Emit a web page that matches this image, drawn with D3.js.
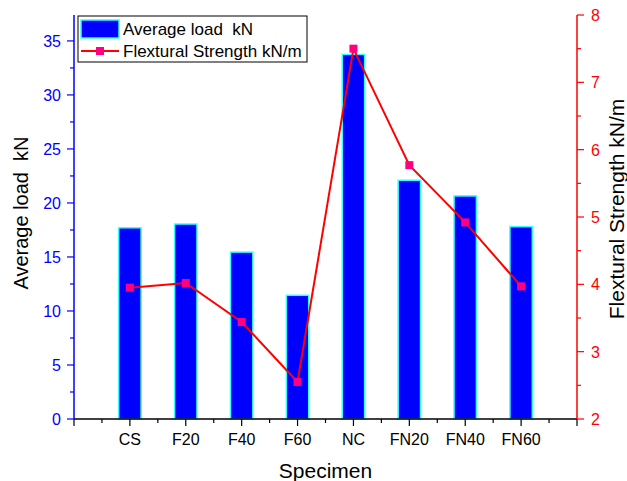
<!DOCTYPE html>
<html><head><meta charset="utf-8">
<script src="https://cdn.jsdelivr.net/npm/d3@7"></script>
<style>body{margin:0;background:#fff}svg{display:block;font-family:"Liberation Sans",Arial,sans-serif}</style>
</head><body><svg id="c" width="627" height="481"></svg>
<script>
const categories = ["CS","F20","F40","F60","NC","FN20","FN40","FN60"];
const avgLoad = [17.7, 18.05, 15.45, 11.45, 33.75, 22.1, 20.65, 17.8];
const flexStrength = [3.95, 4.02, 3.44, 2.55, 7.5, 5.77, 4.92, 3.97];
const leftTicks = [0,5,10,15,20,25,30,35];
const rightTicks = [2,3,4,5,6,7,8];

const svg = d3.select("#c");
const L = 74, R = 577, T = 15, B = 419;
const x = d3.scaleLinear().domain([0, categories.length + 1]).range([L, R]);
const yL = d3.scaleLinear().domain([0, 37.4]).range([B, T]);
const yR = d3.scaleLinear().domain([2, 8]).range([B, T]);
const blue = "#0000ff", red = "#ff0000";

// bars
const bw = x(0.4) - x(0);
svg.append("g").selectAll("rect").data(avgLoad).join("rect")
  .attr("x", (d,i) => x(i+1) - bw/2).attr("y", d => yL(d))
  .attr("width", bw).attr("height", d => B - yL(d))
  .attr("fill", blue).attr("stroke", "#33ffff").attr("stroke-width", 1.5);

// line
const line = d3.line().x((d,i) => x(i+1)).y(d => yR(d));
svg.append("path").datum(flexStrength).attr("d", line)
  .attr("fill","none").attr("stroke", red).attr("stroke-width", 2);
svg.append("g").selectAll("rect").data(flexStrength).join("rect")
  .attr("x", (d,i) => x(i+1) - 4).attr("y", d => yR(d) - 4)
  .attr("width", 8).attr("height", 8).attr("fill", "#ff0080");

// bottom axis
const gx = svg.append("g").attr("transform", `translate(0,${B})`);
const minorX = d3.range(0.5, categories.length + 1, 1);
gx.selectAll("line.mi").data(minorX).join("line").attr("x1", d=>x(d)).attr("x2", d=>x(d))
  .attr("y1",0).attr("y2",4).attr("stroke","#000").attr("stroke-width",1.2);
const majorX = d3.range(0, categories.length + 2);
gx.selectAll("line.ma").data(majorX).join("line").attr("x1", d=>x(d)).attr("x2", d=>x(d))
  .attr("y1",0).attr("y2",7).attr("stroke","#000").attr("stroke-width",1.2);
gx.append("line").attr("x1",L).attr("x2",R).attr("stroke","#000").attr("stroke-width",1.5);
gx.selectAll("text").data(categories).join("text").attr("x",(d,i)=>x(i+1)).attr("y",26)
  .attr("text-anchor","middle").attr("font-size",16).attr("fill","#000").text(d=>d);

// left axis
const gl = svg.append("g").attr("transform", `translate(${L},0)`);
const minorL = d3.range(2.5, 37.4, 5);
gl.selectAll("line.mi").data(minorL).join("line").attr("y1",d=>yL(d)).attr("y2",d=>yL(d))
  .attr("x1",0).attr("x2",-4).attr("stroke",blue).attr("stroke-width",1.2);
gl.selectAll("line.ma").data(leftTicks).join("line").attr("y1",d=>yL(d)).attr("y2",d=>yL(d))
  .attr("x1",0).attr("x2",-7).attr("stroke",blue).attr("stroke-width",1.2);
gl.append("line").attr("y1",T).attr("y2",B).attr("stroke",blue).attr("stroke-width",1.5);
gl.selectAll("text").data(leftTicks).join("text").attr("x",-13).attr("y",d=>yL(d)+6)
  .attr("text-anchor","end").attr("font-size",16).attr("fill",blue).text(d=>d);

// right axis
const gr = svg.append("g").attr("transform", `translate(${R},0)`);
const minorR = d3.range(2.5, 8, 1);
gr.selectAll("line.mi").data(minorR).join("line").attr("y1",d=>yR(d)).attr("y2",d=>yR(d))
  .attr("x1",0).attr("x2",4).attr("stroke",red).attr("stroke-width",1.2);
gr.selectAll("line.ma").data(rightTicks).join("line").attr("y1",d=>yR(d)).attr("y2",d=>yR(d))
  .attr("x1",0).attr("x2",7).attr("stroke",red).attr("stroke-width",1.2);
gr.append("line").attr("y1",T).attr("y2",B).attr("stroke",red).attr("stroke-width",1.5);
gr.selectAll("text").data(rightTicks).join("text").attr("x",14).attr("y",d=>yR(d)+6)
  .attr("text-anchor","start").attr("font-size",16).attr("fill",red).text(d=>d);

// titles
svg.append("text").attr("transform",`translate(28,213) rotate(-90)`).attr("text-anchor","middle")
  .attr("font-size",20).attr("fill","#000").style("white-space","pre").text("Average load  kN");
svg.append("text").attr("transform",`translate(624,209) rotate(-90)`).attr("text-anchor","middle")
  .attr("font-size",21).attr("fill","#000").text("Flextural Strength kN/m");
svg.append("text").attr("x",(L+R)/2).attr("y",478).attr("text-anchor","middle")
  .attr("font-size",21).attr("fill","#000").text("Specimen");

// legend
const lg = svg.append("g");
lg.append("rect").attr("x",78).attr("y",16).attr("width",229).attr("height",46)
  .attr("fill","#fff").attr("stroke","#000").attr("stroke-width",1);
lg.append("rect").attr("x",81).attr("y",20).attr("width",38).attr("height",18)
  .attr("fill",blue).attr("stroke","#33ffff").attr("stroke-width",1.5);
lg.append("line").attr("x1",81).attr("x2",119).attr("y1",51).attr("y2",51).attr("stroke",red).attr("stroke-width",2);
lg.append("rect").attr("x",96).attr("y",47).attr("width",8).attr("height",8).attr("fill","#ff0080");
lg.append("text").attr("x",123).attr("y",35).attr("font-size",17).attr("fill","#000").style("white-space","pre").text("Average load  kN");
lg.append("text").attr("x",123).attr("y",57).attr("font-size",17).attr("fill","#000").text("Flextural Strength kN/m");
</script></body></html>
